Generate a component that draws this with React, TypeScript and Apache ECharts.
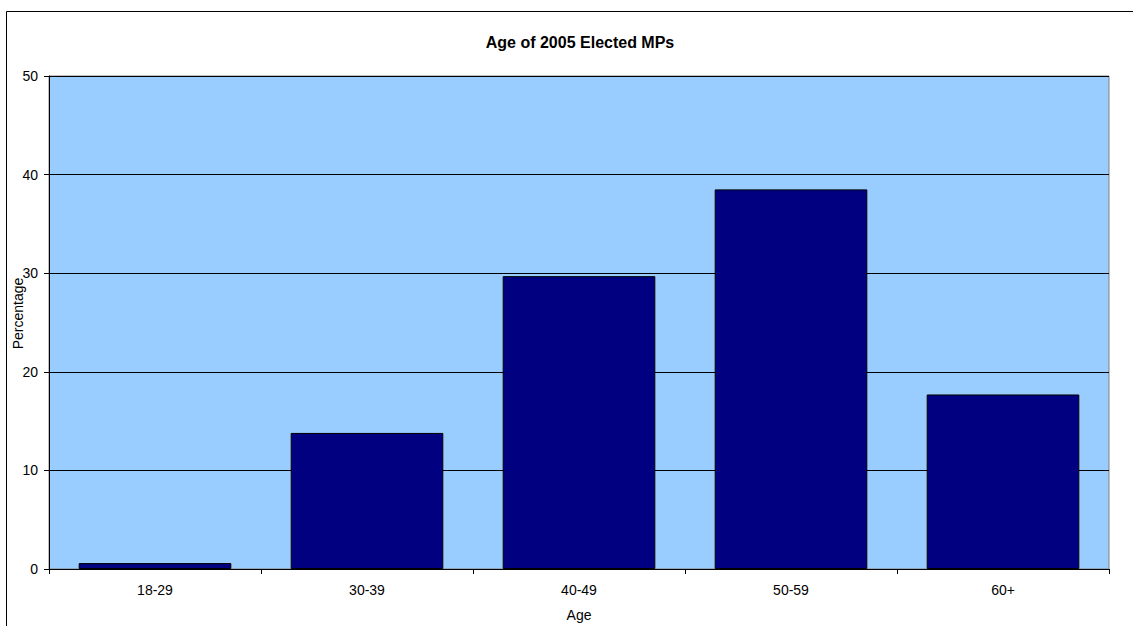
import React, { useEffect, useRef } from "react";
import * as echarts from "echarts";

const categories = ["18-29", "30-39", "40-49", "50-59", "60+"];
const percentages = [0.6, 13.8, 29.7, 38.5, 17.7];
const yTicks = [0, 10, 20, 30, 40, 50];

export default function App() {
  const ref = useRef<HTMLDivElement>(null);
  useEffect(() => {
    document.body.style.margin = "0";
    const chart = echarts.init(ref.current!, null, { renderer: "svg" });
    const font = "'Liberation Sans', Arial, sans-serif";
    chart.setOption({
      animation: false,
      textStyle: { fontFamily: font },
      title: {
        text: "Age of 2005 Elected MPs",
        left: 575,
        top: 29,
        textAlign: "center",
        textStyle: { fontSize: 16, fontWeight: "bold", color: "#000", fontFamily: font },
      },
      graphic: [
        {
          type: "rect",
          shape: { x: 6.5, y: 11.5, width: 1140, height: 640 },
          style: { fill: "none", stroke: "#000", lineWidth: 1 },
          silent: true,
        },
      ],
      grid: {
        left: 49,
        right: 24,
        top: 76,
        bottom: 57,
        containLabel: false,
        outerBoundsMode: "none",
        show: true,
        backgroundColor: "#99ccff",
        borderColor: "#808080",
        borderWidth: 1,
      },
      xAxis: {
        type: "category",
        data: categories,
        name: "Age",
        nameLocation: "middle",
        nameGap: 39,
        nameMoveOverlap: false,
        nameTextStyle: { fontSize: 14, color: "#000", fontFamily: font },
        axisLine: { lineStyle: { color: "#000", width: 1 } },
        axisTick: { show: true, length: 5, alignWithLabel: false, lineStyle: { color: "#000" } },
        axisLabel: { fontSize: 14, color: "#000", margin: 14, fontFamily: font },
        splitLine: { show: false },
      },
      yAxis: {
        type: "value",
        min: yTicks[0],
        max: yTicks[yTicks.length - 1],
        interval: 10,
        name: "Percentage",
        nameLocation: "middle",
        nameGap: 24,
        nameRotate: 90,
        nameMoveOverlap: false,
        nameTextStyle: { fontSize: 14, color: "#000", fontFamily: font, padding: [0, 0, 0, 18] },
        axisLine: { show: true, lineStyle: { color: "#000", width: 1 } },
        axisTick: { show: true, length: 5, lineStyle: { color: "#000" } },
        axisLabel: { fontSize: 14, color: "#000", margin: 11, fontFamily: font },
        splitLine: { show: true, lineStyle: { color: "#000", width: 1 } },
      },
      series: [
        {
          type: "bar",
          data: percentages,
          barCategoryGap: "28%",
          itemStyle: { color: "#000080", borderColor: "#000", borderWidth: 1 },
        },
      ],
    });
    return () => chart.dispose();
  }, []);
  return (
    <div
      ref={ref}
      style={{ position: "absolute", left: 0, top: 0, width: 1133, height: 626 }}
    />
  );
}
